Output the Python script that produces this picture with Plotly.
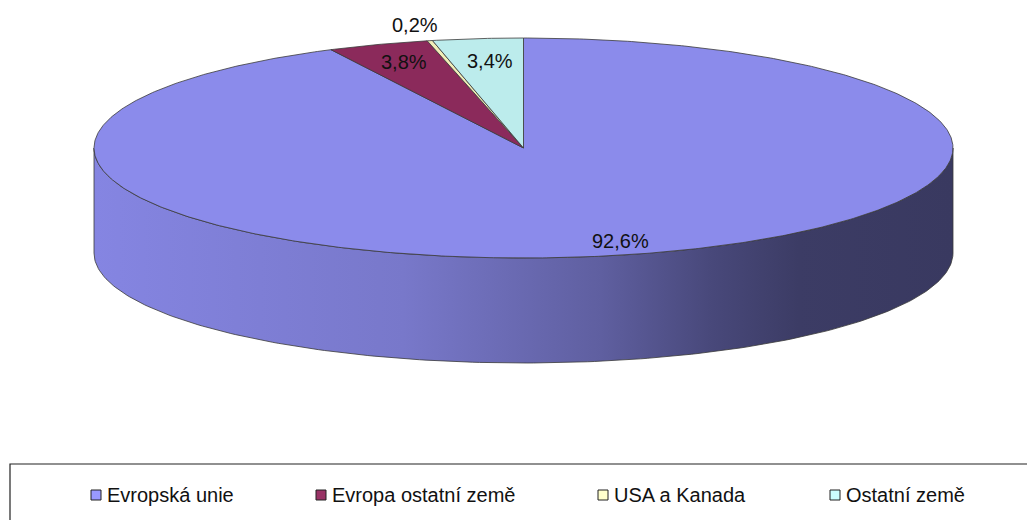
import numpy as np
import plotly.graph_objects as go

# ---------------- data ----------------
categories = ["Evropská unie", "Evropa ostatní země", "USA a Kanada", "Ostatní země"]
shares = [92.6, 3.8, 0.2, 3.4]
value_labels = ["92,6%", "3,8%", "0,2%", "3,4%"]

# ---------------- style ----------------
top_colors = ["#8B8BEB", "#8B2A5B", "#F2EDB8", "#BCECEC"]
legend_colors = ["#9999FF", "#993366", "#FFFFCC", "#CCFFFF"]
label_factors = [(0.98, 0.87), (0.82, 0.83), (1.16, 1.145), (0.74, 0.795)]
legend_x = [96, 321, 603, 835]
FONT = "Liberation Sans, Arial, sans-serif"
EDGE = "#3a3a3a"

W, H = 1027, 520
CX, CY, RX, RY, DEPTH = 523.5, 148.0, 429.5, 110.0, 105.0


def hex_rgb(h):
    h = h.lstrip("#")
    return tuple(int(h[i:i + 2], 16) for i in (0, 2, 4))


def shade(h, f):
    r, g, b = hex_rgb(h)
    return "rgb(%d,%d,%d)" % (round(r * f), round(g * f), round(b * f))


def pt(theta, dz=0.0):
    t = np.radians(theta)
    return CX + RX * np.sin(t), CY - RY * np.cos(t) + dz


fig = go.Figure()

total = float(sum(shares))
bounds = np.concatenate([[0.0], np.cumsum(shares) / total * 360.0])

# --- visible side walls (front half: 90..270 deg) ---
for i, col in enumerate(top_colors):
    a = max(bounds[i], 90.0)
    b = min(bounds[i + 1], 270.0)
    if b <= a:
        continue
    th = np.linspace(a, b, 200)
    xt, yt = pt(th)
    xb, yb = pt(th[::-1], DEPTH)
    xs = np.concatenate([xt, xb, xt[:1]])
    ys = np.concatenate([yt, yb, yt[:1]])
    scale = [[0.0, shade(col, 0.96)], [0.36, shade(col, 0.86)],
             [0.59, shade(col, 0.68)], [0.72, shade(col, 0.52)],
             [0.82, shade(col, 0.43)], [1.0, shade(col, 0.41)]]
    fig.add_trace(go.Scatter(
        x=xs, y=ys, mode="lines", fill="toself",
        fillgradient=dict(type="horizontal", colorscale=scale,
                          start=CX - RX, stop=CX + RX),
        line=dict(color=EDGE, width=0.8), hoverinfo="skip", showlegend=False))

# --- top faces ---
for i, col in enumerate(top_colors):
    a, b = bounds[i], bounds[i + 1]
    n = max(3, int((b - a) * 2))
    th = np.linspace(a, b, n)
    xa, ya = pt(th)
    xs = np.concatenate([[CX], xa, [CX]])
    ys = np.concatenate([[CY], ya, [CY]])
    fig.add_trace(go.Scatter(
        x=xs, y=ys, mode="lines", fill="toself", fillcolor=col,
        line=dict(color=EDGE, width=0.8), hoverinfo="skip", showlegend=False))

# --- value labels ---
for i, lab in enumerate(value_labels):
    mid = np.radians((bounds[i] + bounds[i + 1]) / 2.0)
    fx, fy = label_factors[i]
    lx = CX + RX * fx * np.sin(mid)
    ly = CY - RY * fy * np.cos(mid)
    fig.add_annotation(x=lx, y=ly, text=lab, showarrow=False,
                       xanchor="center", yanchor="middle",
                       font=dict(family=FONT, size=20, color="#111111"))

# --- legend box ---
fig.add_trace(go.Scatter(
    x=[W + 10, 10, 10], y=[464, 464, H + 10], mode="lines",
    line=dict(color="#222222", width=1.2), hoverinfo="skip", showlegend=False))

LEG_Y = 495
for i, name in enumerate(categories):
    fig.add_trace(go.Scatter(
        x=[legend_x[i]], y=[LEG_Y], mode="markers",
        marker=dict(symbol="square", size=10, color=legend_colors[i],
                    line=dict(color="#222222", width=1)),
        hoverinfo="skip", showlegend=False))
    fig.add_annotation(x=legend_x[i] + 9, y=LEG_Y, text=name, showarrow=False,
                       xanchor="left", yanchor="middle",
                       font=dict(family=FONT, size=20, color="#111111"))

fig.update_layout(
    width=W, height=H,
    margin=dict(l=0, r=0, t=0, b=0),
    paper_bgcolor="white", plot_bgcolor="white",
    xaxis=dict(range=[0, W], visible=False, fixedrange=True),
    yaxis=dict(range=[H, 0], visible=False, fixedrange=True),
    showlegend=False,
)

fig.write_html(
    "out.html",
    config={"displayModeBar": False},
    post_script="document.body.style.margin='0px';"
                "document.body.style.overflow='hidden';",
)
